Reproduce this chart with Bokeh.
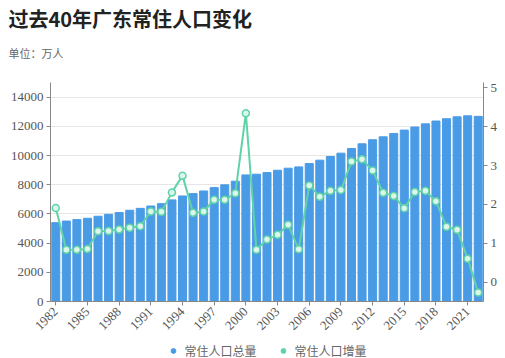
import math
from bokeh.plotting import figure
from bokeh.layouts import column
from bokeh.models import (Range1d, LinearAxis, FixedTicker, Title, Legend, LegendItem,
                          ColumnDataSource)
from bokeh.embed import file_html
from bokeh.resources import INLINE

years = list(range(1982, 2023))
total = [5400, 5510, 5610, 5700, 5840, 5970, 6090, 6250, 6380, 6540,
         6700, 6960, 7230, 7390, 7570, 7800, 7990, 8240, 8670, 8720,
         8830, 8990, 9130, 9220, 9450, 9680, 9930, 10160, 10480, 10800,
         11080, 11280, 11510, 11740, 11950, 12170, 12360, 12520, 12650, 12720,
         12680]
increase = [1.91, 0.84, 0.84, 0.86, 1.31, 1.32, 1.36, 1.40, 1.44, 1.82,
            1.81, 2.31, 2.74, 1.79, 1.82, 2.12, 2.12, 2.29, 4.34, 0.84,
            1.10, 1.22, 1.48, 0.85, 2.49, 2.20, 2.35, 2.37, 3.10, 3.16,
            2.87, 2.30, 2.22, 1.90, 2.32, 2.35, 2.08, 1.43, 1.35, 0.61,
            -0.26]
x_ticks = list(range(1982, 2023, 3))
left_ticks = [0, 2000, 4000, 6000, 8000, 10000, 12000, 14000]
right_ticks = [0, 1, 2, 3, 4, 5]

title_text = "过去40年广东常住人口变化"
subtitle_text = "单位：万人"
series_names = ["常住人口总量", "常住人口增量"]

BAR = "#4a9be6"
LINE = "#5fd3a7"
TXT = "#555555"
CJK = "Noto Sans CJK SC"
SERIF = "Liberation Serif"

src = ColumnDataSource(dict(year=years, total=total, inc=increase))

p = figure(width=505, height=342, output_backend="svg", toolbar_location=None,
           x_range=Range1d(1981.5, 2022.5), y_range=Range1d(0, 15000),
           min_border_left=50, min_border_right=22, min_border_top=82,
           min_border_bottom=41)
p.outline_line_color = None
p.background_fill_color = "white"
p.border_fill_color = "white"

p.extra_y_ranges = {"inc": Range1d(-0.49, 5.13)}

p.vbar(x="year", top="total", width=0.76, source=src, color=BAR)
p.line(x="year", y="inc", source=src, y_range_name="inc", color=LINE, line_width=2)
p.scatter(x="year", y="inc", source=src, y_range_name="inc", size=7,
          fill_color="#dcf6ec", line_color=LINE, line_width=1.5)

# axes
xa = p.xaxis[0]
xa.ticker = FixedTicker(ticks=x_ticks)
xa.major_label_orientation = math.pi / 4
xa.minor_tick_line_color = None
xa.axis_line_color = "#888888"
xa.major_tick_line_color = "#888888"
xa.major_tick_in = 0
xa.major_tick_out = 4
xa.major_label_text_font = SERIF
xa.major_label_text_font_size = "13px"
xa.major_label_text_color = TXT
xa.major_label_standoff = 4

ya = p.yaxis[0]
ya.ticker = FixedTicker(ticks=left_ticks)
ya.minor_tick_line_color = None
ya.axis_line_color = "#888888"
ya.major_tick_line_color = "#888888"
ya.major_tick_in = 0
ya.major_tick_out = 4
ya.major_label_text_font = SERIF
ya.major_label_text_font_size = "13px"
ya.major_label_text_color = TXT
ya.major_label_standoff = 3

ra = LinearAxis(y_range_name="inc", ticker=FixedTicker(ticks=right_ticks))
ra.minor_tick_line_color = None
ra.axis_line_color = "#888888"
ra.major_tick_line_color = "#888888"
ra.major_tick_in = 0
ra.major_tick_out = 4
ra.major_label_text_font = SERIF
ra.major_label_text_font_size = "13px"
ra.major_label_text_color = TXT
ra.major_label_standoff = 3
p.add_layout(ra, "right")

p.xgrid.grid_line_color = None
p.ygrid.ticker = FixedTicker(ticks=left_ticks)
p.ygrid.grid_line_color = "#e6e6e6"

# titles: figure's own title is outermost, subtitle sits closer to the plot
p.title.text = title_text
p.title.text_font = CJK
p.title.text_font_size = "20px"
p.title.text_color = "#222222"
p.title.text_font_style = "bold"
p.title.standoff = 0
p.title.offset = -42
# spacer between the subtitle and the plot area
p.add_layout(Title(text=" ", text_font_size="1px", standoff=8), "above")
p.add_layout(Title(text=subtitle_text, text_font=CJK, text_font_size="11px",
                   text_font_style="normal", text_color="#666666",
                   standoff=21, offset=-42), "above")

# legend (separate strip below the chart)
lf = figure(width=505, height=16, output_backend="svg", toolbar_location=None,
            x_range=Range1d(0, 1), y_range=Range1d(0, 1),
            x_axis_type=None, y_axis_type=None,
            min_border_left=0, min_border_right=0, min_border_top=0,
            min_border_bottom=0)
lf.outline_line_color = None
lf.xgrid.visible = False
lf.ygrid.visible = False
r1 = lf.scatter(x=[0.5], y=[float("nan")], marker="circle", size=10, color=BAR)
r2 = lf.scatter(x=[0.5], y=[float("nan")], marker="circle", size=10, color=LINE)
leg = Legend(items=[LegendItem(label=series_names[0], renderers=[r1]),
                    LegendItem(label=series_names[1], renderers=[r2])],
             orientation="horizontal", location="center",
             label_text_font=CJK, label_text_font_size="12px",
             label_text_color="#666666", border_line_color=None,
             background_fill_alpha=0, spacing=20, padding=0, margin=0,
             glyph_width=12, glyph_height=12, label_standoff=6,
             label_height=14)
lf.add_layout(leg, "center")

layout = column(p, lf, spacing=0)
open("out.html", "w").write(file_html(layout, INLINE))
